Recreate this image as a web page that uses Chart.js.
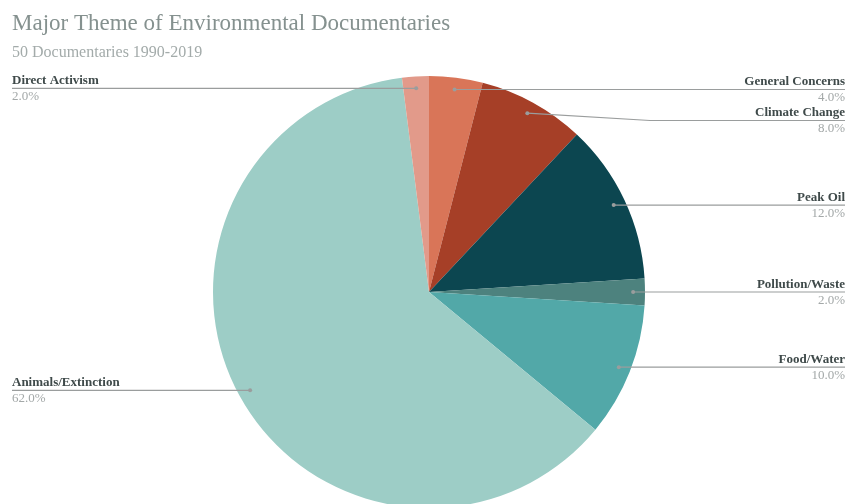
<!DOCTYPE html>
<html>
<head>
<meta charset="utf-8">
<script src="https://cdn.jsdelivr.net/npm/chart.js@4"></script>
<style>
  html, body { margin: 0; padding: 0; background: #fff; overflow: hidden; }
  #wrap { position: relative; width: 847px; height: 520px; }
</style>
</head>
<body>
<div id="wrap"><canvas id="themePie"></canvas></div>
<script>
const categories = ['General Concerns', 'Climate Change', 'Peak Oil', 'Pollution/Waste',
  'Food/Water', 'Animals/Extinction', 'Direct Activism'];
const shares = [4.0, 8.0, 12.0, 2.0, 10.0, 62.0, 2.0];
const sliceColors = ['#d97558', '#a63f27', '#0c4650', '#4d827e', '#52a8a8', '#9dcdc6', '#e29a8a'];

const SERIF = '"Liberation Serif", "DejaVu Serif", serif';

// titles, leader lines and labels drawn on top of the pie
const labelPlugin = {
  id: 'leaderLabels',
  afterDraw(chart) {
    const ctx = chart.ctx;
    const W = chart.width;
    ctx.save();

    ctx.textBaseline = 'alphabetic';
    ctx.textAlign = 'left';
    ctx.fillStyle = '#85918f';
    ctx.font = '23px ' + SERIF;
    ctx.fillText('Major Theme of Environmental Documentaries', 12, 30);
    ctx.fillStyle = '#a3abaa';
    ctx.font = '16px ' + SERIF;
    ctx.fillText('50 Documentaries 1990-2019', 12, 57);

    const arcs = chart.getDatasetMeta(0).data;
    const items = arcs.map((arc, i) => {
      const mid = (arc.startAngle + arc.endAngle) / 2;
      const r = arc.outerRadius * 0.945;
      const x = arc.x + Math.cos(mid) * r;
      const y = arc.y + Math.sin(mid) * r;
      return { i, x, y, right: x >= arc.x, ly: y };
    });

    // push overlapping labels down on each side
    [true, false].forEach(side => {
      const group = items.filter(d => d.right === side).sort((a, b) => a.y - b.y);
      for (let k = 1; k < group.length; k++) {
        if (group[k].ly - group[k - 1].ly < 31) group[k].ly = group[k - 1].ly + 31;
      }
    });

    items.forEach(d => {
      const endX = d.right ? W - 2 : 12;
      const bendX = d.right ? 650 : 230;
      ctx.strokeStyle = '#9a9d9d';
      ctx.lineWidth = 1.2;
      ctx.beginPath();
      ctx.moveTo(d.x, d.y);
      if (Math.abs(d.ly - d.y) > 1) ctx.lineTo(bendX, d.ly);
      ctx.lineTo(endX, d.ly);
      ctx.stroke();
      ctx.fillStyle = '#9a9d9d';
      ctx.beginPath();
      ctx.arc(d.x, d.y, 2, 0, Math.PI * 2);
      ctx.fill();

      ctx.textAlign = d.right ? 'right' : 'left';
      ctx.fillStyle = '#3f4a4a';
      ctx.font = 'bold 13px ' + SERIF;
      ctx.fillText(categories[d.i], endX, d.ly - 4);
      ctx.fillStyle = '#a3a8a8';
      ctx.font = '13px ' + SERIF;
      ctx.fillText(shares[d.i].toFixed(1) + '%', endX, d.ly + 12);
    });

    ctx.restore();
  }
};

new Chart(document.getElementById('themePie'), {
  type: 'pie',
  data: {
    labels: categories,
    datasets: [{
      data: shares,
      backgroundColor: sliceColors,
      borderWidth: 0
    }]
  },
  options: {
    responsive: true,
    maintainAspectRatio: false,
    animation: false,
    layout: { padding: { left: 11, right: 0, top: 76, bottom: 12 } },
    plugins: {
      legend: { display: false },
      tooltip: { enabled: false }
    }
  },
  plugins: [labelPlugin]
});
</script>
</body>
</html>
